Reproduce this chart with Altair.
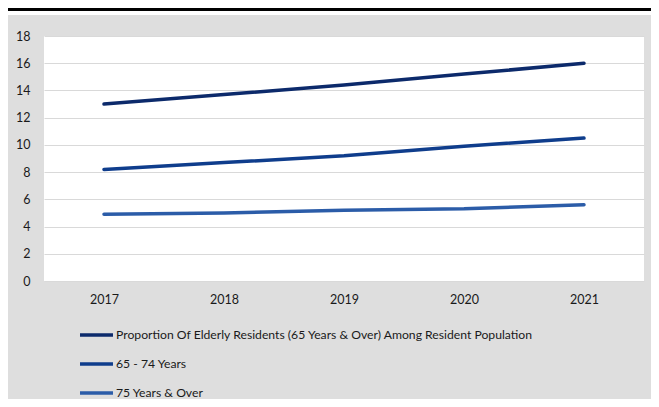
import altair as alt
import pandas as pd

years = ["2017", "2018", "2019", "2020", "2021"]
series_names = [
    "Proportion Of Elderly Residents (65 Years & Over) Among Resident Population",
    "\u00a065 - 74 Years",
    "\u00a075 Years & Over",
]
elderly_total = [13.0, 13.7, 14.4, 15.2, 16.0]
aged_65_74 = [8.2, 8.7, 9.2, 9.9, 10.5]
aged_75_over = [4.9, 5.0, 5.2, 5.3, 5.6]
series_colors = ["#0c2a6b", "#0f3d8c", "#2b5ca8"]
y_ticks = [0, 2, 4, 6, 8, 10, 12, 14, 16, 18]

rows = []
for name, vals in zip(series_names, [elderly_total, aged_65_74, aged_75_over]):
    for yr, v in zip(years, vals):
        rows.append({"year": yr, "value": v, "series": name})
df = pd.DataFrame(rows)
dummy = pd.DataFrame({"k": [0]})

FONT = "Lato"

white_top = alt.Chart(dummy).mark_rect(color="white").encode(
    x=alt.value(-36), x2=alt.value(615), y=alt.value(-28), y2=alt.value(-21)
)
black_rule = alt.Chart(dummy).mark_rule(color="black", strokeWidth=3).encode(
    x=alt.value(-36), x2=alt.value(615), y=alt.value(-26.5)
)

lines = alt.Chart(df).mark_line(strokeWidth=3.5, strokeCap="round").encode(
    x=alt.X("year:O", sort=years, title=None,
            axis=alt.Axis(labelAngle=0, domain=False, ticks=False, grid=False,
                          labelPadding=12, labelFontSize=12.5, labelFont=FONT,
                          labelColor="#1a1a1a")),
    y=alt.Y("value:Q", title=None,
            scale=alt.Scale(domain=[0, 18], nice=False),
            axis=alt.Axis(values=y_ticks, domain=False, ticks=False,
                          gridColor="#d9d9d9", gridWidth=1.2,
                          labelPadding=14, labelFontSize=12.5, labelFont=FONT,
                          labelColor="#1a1a1a")),
    color=alt.Color("series:N", sort=series_names,
                    scale=alt.Scale(domain=series_names, range=series_colors),
                    legend=alt.Legend(title=None, orient="none",
                                      legendX=42.5, legendY=289,
                                      direction="vertical",
                                      symbolType="M-2,0H2", symbolSize=272,
                                      symbolStrokeWidth=3.5,
                                      labelOffset=9.5, rowPadding=12,
                                      labelFont=FONT, labelFontSize=12.2,
                                      labelColor="#1a1a1a", labelLimit=600,
                                      padding=0)),
)

chart = alt.layer(white_top, black_rule, lines).properties(
    width=600, height=245,
    autosize=alt.AutoSizeParams(type="none"),
    padding={"left": 36, "top": 28, "right": 7, "bottom": 118},
).configure(background="#dedede").configure_view(fill="white", strokeWidth=0)

chart.save("out.html", embed_options={"renderer": "svg", "actions": False})
